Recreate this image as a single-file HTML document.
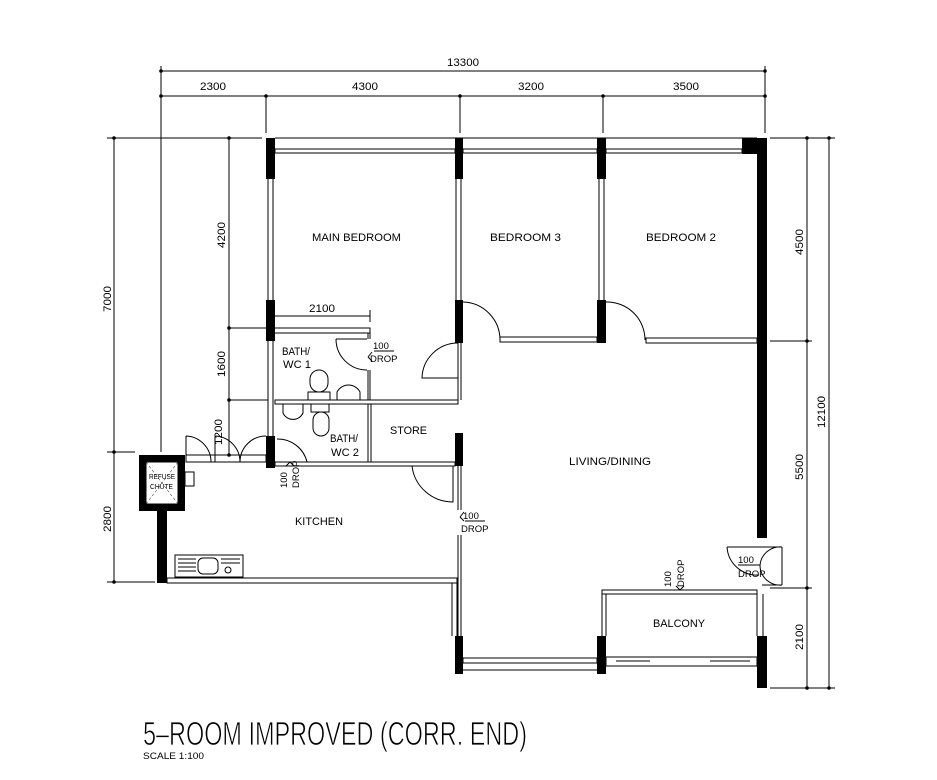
<!DOCTYPE html>
<html><head><meta charset="utf-8"><style>
html,body{margin:0;padding:0;background:#fff;}
svg{display:block;}
text{font-family:"Liberation Sans",sans-serif;fill:#000;}
</style></head><body>
<svg width="937" height="780" viewBox="0 0 937 780" xmlns="http://www.w3.org/2000/svg">
<g stroke="#000" stroke-width="1" fill="none">
<line x1="161" y1="71" x2="765" y2="71"/>
<line x1="161" y1="96" x2="765" y2="96"/>
<line x1="161" y1="66" x2="161" y2="452"/>
<line x1="266" y1="96" x2="266" y2="133"/>
<line x1="460" y1="96" x2="460" y2="133"/>
<line x1="603" y1="96" x2="603" y2="133"/>
<line x1="765" y1="66" x2="765" y2="133"/>
<line x1="107" y1="138" x2="262" y2="138"/>
<line x1="114" y1="138" x2="114" y2="582"/>
<line x1="107" y1="452" x2="135" y2="452"/>
<line x1="107" y1="582" x2="155" y2="582"/>
<line x1="229" y1="138" x2="229" y2="455"/>
<line x1="229" y1="328" x2="268" y2="328"/>
<line x1="229" y1="400" x2="268" y2="400"/>
<line x1="229" y1="455" x2="268" y2="455"/>
<line x1="275" y1="316" x2="370" y2="316"/>
<line x1="370" y1="310" x2="370" y2="322"/>
<line x1="770" y1="138" x2="835" y2="138"/>
<line x1="807" y1="138" x2="807" y2="688"/>
<line x1="829" y1="138" x2="829" y2="688"/>
<line x1="770" y1="341" x2="812" y2="341"/>
<line x1="770" y1="588" x2="812" y2="588"/>
<line x1="770" y1="688" x2="835" y2="688"/>
</g>
<g fill="#000">
<circle cx="161" cy="71" r="1.8"/><circle cx="161" cy="96" r="1.8"/><circle cx="266" cy="96" r="1.8"/><circle cx="460" cy="96" r="1.8"/><circle cx="603" cy="96" r="1.8"/><circle cx="765" cy="96" r="1.8"/><circle cx="765" cy="71" r="1.8"/>
<circle cx="114" cy="138" r="1.8"/><circle cx="114" cy="452" r="1.8"/><circle cx="114" cy="582" r="1.8"/>
<circle cx="229" cy="138" r="1.8"/><circle cx="229" cy="328" r="1.8"/><circle cx="229" cy="400" r="1.8"/><circle cx="229" cy="455" r="1.8"/>
<circle cx="807" cy="138" r="1.8"/><circle cx="807" cy="341" r="1.8"/><circle cx="807" cy="588" r="1.8"/><circle cx="807" cy="688" r="1.8"/>
<circle cx="829" cy="138" r="1.8"/><circle cx="829" cy="688" r="1.8"/>
<rect x="266" y="138" width="9" height="41"/>
<rect x="455" y="138" width="8" height="41"/>
<rect x="597" y="138" width="9" height="41"/>
<rect x="742" y="138" width="25" height="16"/>
<rect x="757" y="138" width="10" height="400"/>
<rect x="266" y="300" width="9" height="41"/>
<rect x="455" y="300" width="8" height="43"/>
<rect x="597" y="300" width="9" height="43"/>
<rect x="266" y="436" width="9" height="32"/>
<rect x="455" y="433" width="8" height="33"/>
<rect x="455" y="636" width="8" height="38"/>
<rect x="597" y="636" width="9" height="38"/>
<rect x="757" y="636" width="10" height="52"/>
<rect x="139" y="455" width="46" height="56"/>
<rect x="157" y="511" width="10" height="72"/>
</g>
<rect x="146" y="462" width="32" height="42" fill="#fff" stroke="#000"/>
<g stroke="#000" stroke-width="1" fill="none">
<line x1="146" y1="462" x2="178" y2="504" stroke-width="0.5" stroke-dasharray="3 2"/>
<line x1="178" y1="462" x2="146" y2="504" stroke-width="0.5" stroke-dasharray="3 2"/>
<rect x="185" y="472" width="9" height="14"/>
<rect x="275" y="149" width="180" height="4"/>
<rect x="463" y="149" width="134" height="4"/>
<rect x="606" y="149" width="136" height="4"/>
<line x1="275" y1="138" x2="757" y2="138"/>
<line x1="268" y1="179" x2="268" y2="300"/><line x1="273" y1="179" x2="273" y2="300"/>
<line x1="268" y1="341" x2="268" y2="436"/><line x1="273" y1="341" x2="273" y2="436"/>
<line x1="456" y1="179" x2="456" y2="300"/><line x1="461" y1="179" x2="461" y2="300"/>
<line x1="599" y1="179" x2="599" y2="300"/><line x1="604" y1="179" x2="604" y2="300"/>
<rect x="500" y="337" width="97" height="5"/>
<rect x="646" y="338" width="111" height="5"/>
<path d="M463 302 A38 38 0 0 1 500 340"/>
<path d="M606 302 A38 38 0 0 1 645 340"/>
<path d="M275 328 H370 V333 H275"/>
<line x1="370" y1="333" x2="370" y2="339"/><line x1="368" y1="333" x2="368" y2="339"/>
<line x1="370" y1="370" x2="370" y2="400"/><line x1="368" y1="370" x2="368" y2="400"/>
<path d="M336 339 A31 31 0 0 0 367 370"/><line x1="336" y1="339" x2="367" y2="339"/>
<rect x="275" y="400" width="183" height="4"/>
<line x1="458" y1="343" x2="458" y2="400"/><line x1="461" y1="343" x2="461" y2="400"/>
<path d="M458 343 A36 36 0 0 0 422 378 L458 378"/>
<rect x="310" y="370" width="18" height="22" rx="9"/>
<rect x="308" y="392" width="22" height="8"/>
<path d="M337 400 V392 A13 13 0 0 1 360 392 V400"/>
<line x1="368" y1="404" x2="368" y2="462"/><line x1="371" y1="404" x2="371" y2="462"/>
<rect x="275" y="462" width="180" height="4"/>
<rect x="311" y="404" width="18" height="8"/>
<rect x="313" y="412" width="16" height="24" rx="8"/>
<path d="M283 404 V413 A11 11 0 0 0 303 413 V404"/>
<path d="M277 439 A30 30 0 0 1 307 462"/>
<path d="M412 466 A41 41 0 0 0 453 502 V466"/>
<rect x="186" y="455" width="80" height="7"/>
<path d="M186 436 A26 26 0 0 1 211 462 M186 436 V462"/>
<path d="M215 436 A26 26 0 0 1 240 462 M215 436 V462"/>
<path d="M266 436 A26 26 0 0 0 240 462"/>
<line x1="458" y1="466" x2="458" y2="510"/><line x1="461" y1="466" x2="461" y2="510"/>
<line x1="458" y1="535" x2="458" y2="636"/><line x1="461" y1="535" x2="461" y2="636"/>
<rect x="167" y="578" width="290" height="5"/>
<line x1="457" y1="583" x2="457" y2="636"/><line x1="452" y1="583" x2="452" y2="636"/>
<rect x="175" y="555" width="68" height="22"/>
<line x1="178" y1="559" x2="196" y2="559"/><line x1="178" y1="563" x2="196" y2="563"/><line x1="178" y1="567" x2="196" y2="567"/><line x1="178" y1="571" x2="196" y2="571"/>
<rect x="198" y="558" width="20" height="16" rx="5"/>
<line x1="221" y1="559" x2="240" y2="559"/><line x1="221" y1="563" x2="240" y2="563"/>
<circle cx="228" cy="570" r="3"/>
<rect x="463" y="658" width="134" height="5"/>
<line x1="463" y1="670" x2="597" y2="670"/>
<rect x="602" y="590" width="155" height="4"/>
<line x1="602" y1="594" x2="602" y2="636"/><line x1="606" y1="594" x2="606" y2="636"/>
<line x1="757" y1="594" x2="757" y2="636"/><line x1="763" y1="594" x2="763" y2="636"/>
<rect x="606" y="657" width="151" height="9"/>
<line x1="616" y1="661" x2="650" y2="661"/><line x1="710" y1="661" x2="750" y2="661"/>
<path d="M727 547 H782"/>
<path d="M727 547 A30 30 0 0 0 759 575"/>
<path d="M782 547 A20 20 0 0 0 760 566 A20 20 0 0 0 782 585"/>
<line x1="782" y1="547" x2="782" y2="585"/>
<line x1="762" y1="585" x2="782" y2="585"/>
<path d="M368 357 l4 -5 M368 357 l4 4"/>
<path d="M460 517 l4 -5 M460 517 l4 4"/>
<path d="M290 462 l4 4 M290 462 l-4 4"/>
<path d="M680 590 l4 -4 M680 590 l-4 -4"/>
<line x1="374" y1="351" x2="394" y2="351"/>
<line x1="465" y1="521" x2="485" y2="521"/>
<line x1="738" y1="565" x2="760" y2="565"/>
</g>
<g font-size="11">
<text x="200" y="90" textLength="26" lengthAdjust="spacingAndGlyphs">2300</text>
<text x="352" y="90" textLength="26" lengthAdjust="spacingAndGlyphs">4300</text>
<text x="518" y="90" textLength="26" lengthAdjust="spacingAndGlyphs">3200</text>
<text x="673" y="90" textLength="26" lengthAdjust="spacingAndGlyphs">3500</text>
<text x="447" y="66" textLength="32" lengthAdjust="spacingAndGlyphs">13300</text>
<text x="309" y="312" textLength="26" lengthAdjust="spacingAndGlyphs">2100</text>
<text transform="translate(111,312) rotate(-90)" textLength="26" lengthAdjust="spacingAndGlyphs">7000</text>
<text transform="translate(225,248) rotate(-90)" textLength="26" lengthAdjust="spacingAndGlyphs">4200</text>
<text transform="translate(225,377) rotate(-90)" textLength="26" lengthAdjust="spacingAndGlyphs">1600</text>
<text transform="translate(222,445) rotate(-90)" textLength="26" lengthAdjust="spacingAndGlyphs">1200</text>
<text transform="translate(111,532) rotate(-90)" textLength="26" lengthAdjust="spacingAndGlyphs">2800</text>
<text transform="translate(803,255) rotate(-90)" textLength="26" lengthAdjust="spacingAndGlyphs">4500</text>
<text transform="translate(803,480) rotate(-90)" textLength="26" lengthAdjust="spacingAndGlyphs">5500</text>
<text transform="translate(803,650) rotate(-90)" textLength="26" lengthAdjust="spacingAndGlyphs">2100</text>
<text transform="translate(825,428) rotate(-90)" textLength="32" lengthAdjust="spacingAndGlyphs">12100</text>
<text x="312" y="241" textLength="89" lengthAdjust="spacingAndGlyphs">MAIN  BEDROOM</text>
<text x="490" y="241" textLength="71" lengthAdjust="spacingAndGlyphs">BEDROOM  3</text>
<text x="646" y="241" textLength="70" lengthAdjust="spacingAndGlyphs">BEDROOM  2</text>
<text x="569" y="465" textLength="82" lengthAdjust="spacingAndGlyphs">LIVING/DINING</text>
<text x="295" y="525" textLength="48" lengthAdjust="spacingAndGlyphs">KITCHEN</text>
<text x="390" y="434" textLength="37" lengthAdjust="spacingAndGlyphs">STORE</text>
<text x="653" y="627" textLength="52" lengthAdjust="spacingAndGlyphs">BALCONY</text>
<text x="282" y="355" textLength="28" lengthAdjust="spacingAndGlyphs">BATH/</text>
<text x="283" y="368" textLength="28" lengthAdjust="spacingAndGlyphs">WC  1</text>
<text x="330" y="442" textLength="28" lengthAdjust="spacingAndGlyphs">BATH/</text>
<text x="331" y="456" textLength="28" lengthAdjust="spacingAndGlyphs">WC  2</text>
</g>
<g font-size="9.5">
<text x="373" y="349">100</text><text x="370" y="362">DROP</text>
<text x="463" y="519">100</text><text x="461" y="532">DROP</text>
<text x="738" y="563">100</text><text x="738" y="577">DROP</text>
<text transform="translate(287,488) rotate(-90)">100</text>
<text transform="translate(299,488) rotate(-90)">DROP</text>
<text transform="translate(671,587) rotate(-90)">100</text>
<text transform="translate(684,587) rotate(-90)">DROP</text>
</g>
<g font-size="7.5">
<text x="149" y="479" textLength="26" lengthAdjust="spacingAndGlyphs">REFUSE</text>
<text x="150" y="489" textLength="23" lengthAdjust="spacingAndGlyphs">CHUTE</text>
</g>
<text x="143" y="745" font-size="33" textLength="384" lengthAdjust="spacingAndGlyphs" stroke="#fff" stroke-width="0.8">5–ROOM  IMPROVED  (CORR.  END)</text>
<text x="143" y="759" font-size="9.5" textLength="61" lengthAdjust="spacingAndGlyphs">SCALE   1:100</text>
</svg>
</body></html>
